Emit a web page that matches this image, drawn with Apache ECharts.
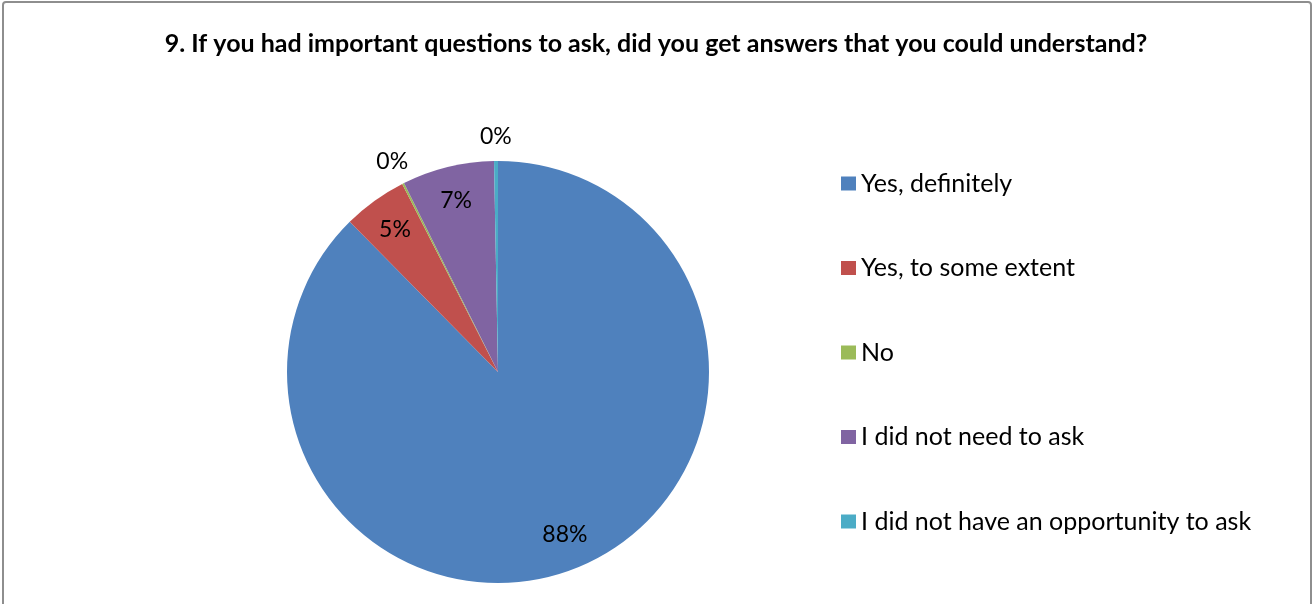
<!DOCTYPE html>
<html>
<head>
<meta charset="utf-8">
<script src="https://cdn.jsdelivr.net/npm/echarts@6/dist/echarts.min.js"></script>
<style>
  html, body { margin: 0; padding: 0; background: #ffffff; overflow: hidden; }
  #chart { position: absolute; left: 0; top: 0; width: 1312px; height: 604px; }
  #frame { position: absolute; left: 2px; top: 1px; width: 1306px; height: 700px;
           border: 2px solid #8e8e8e; border-radius: 4px; pointer-events: none; }
</style>
</head>
<body>
<div id="chart"></div>
<div id="frame"></div>
<script>
// Survey question 9 – share of responses per answer
const titleText = '9. If you had important questions to ask, did you get answers that you could understand?';
const categories = [
  'Yes, definitely',
  'Yes, to some extent',
  'No',
  'I did not need to ask',
  'I did not have an opportunity to ask'
];
const shares = [87.6, 4.9, 0.15, 7.05, 0.3];
const colors = ['#4F81BD', '#C0504D', '#9BBB59', '#8064A2', '#4BACC6'];
// answers whose label sits inside the slice (others are labelled outside the rim)
const insideLabel = [true, true, false, true, false];

const FONT = 'Lato, "Liberation Sans", sans-serif';
const CENTER = [498, 372];
const R = 211;

const pct = p => Math.round(p.percent) + '%';

function slices(showFn, visible) {
  return categories.map((name, i) => ({
    name,
    value: shares[i],
    itemStyle: { color: visible ? colors[i] : 'rgba(0,0,0,0)' },
    label: { show: showFn(i) }
  }));
}

const labelStyle = {
  position: 'inside',
  formatter: pct,
  color: '#000000',
  fontFamily: FONT,
  fontSize: 23
};

const chart = echarts.init(document.getElementById('chart'), null, { renderer: 'canvas' });
chart.setOption({
  backgroundColor: '#ffffff',
  animation: false,
  title: {
    text: titleText,
    left: 'center',
    top: 31,
    padding: 0,
    textStyle: { fontFamily: FONT, fontWeight: 'bold', fontSize: 25, color: '#000000' }
  },
  legend: {
    orient: 'vertical',
    left: 841,
    top: 171,
    padding: 0,
    itemWidth: 15,
    itemHeight: 14,
    itemGap: 59.5,
    icon: 'rect',
    selectedMode: false,
    data: categories,
    textStyle: { fontFamily: FONT, fontSize: 25, color: '#000000' }
  },
  series: [
    {
      type: 'pie',
      center: CENTER,
      radius: R,
      startAngle: 90,
      clockwise: true,
      silent: true,
      label: { show: false },
      labelLine: { show: false },
      itemStyle: { borderWidth: 0 },
      data: slices(() => false, true)
    },
    {
      // label ring for the larger answers (inside the slices)
      type: 'pie',
      center: CENTER,
      radius: [0, R * 1.64],
      startAngle: 90,
      clockwise: true,
      silent: true,
      legendHoverLink: false,
      label: labelStyle,
      labelLine: { show: false },
      data: slices(i => insideLabel[i], false)
    },
    {
      // label ring for the near-zero answers (just outside the rim)
      type: 'pie',
      center: CENTER,
      radius: [0, R * 2.2],
      startAngle: 90,
      clockwise: true,
      silent: true,
      legendHoverLink: false,
      label: labelStyle,
      labelLine: { show: false },
      data: slices(i => !insideLabel[i], false)
    }
  ]
});
</script>
</body>
</html>
